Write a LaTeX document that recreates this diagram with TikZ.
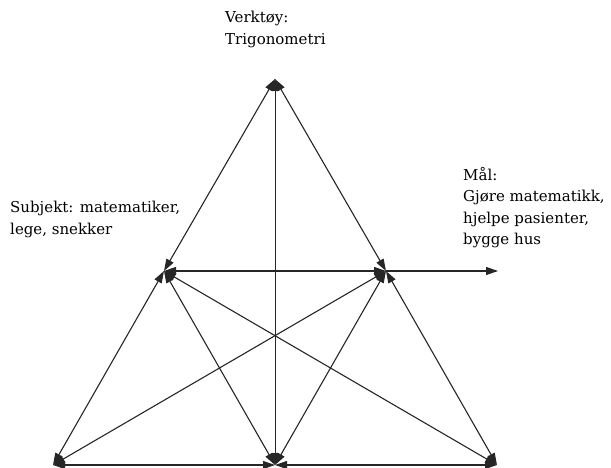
\documentclass[tikz,border=0pt]{standalone}
\usepackage{fontspec}
\setmainfont{DejaVu Serif}
\usetikzlibrary{arrows.meta}
\begin{document}
\begin{tikzpicture}[x=1pt,y=-1pt,
  link/.style={draw=black!85, line width=1.1pt, {Triangle[length=12pt,width=8pt]}-{Triangle[length=12pt,width=8pt]}},
  oneway/.style={draw=black!85, line width=1.1pt, -{Triangle[length=12pt,width=8pt]}},
  lbl/.style={anchor=north west, align=left, inner sep=0pt,
    font=\fontsize{15}{21.5}\selectfont}]
  \useasboundingbox (0,0) rectangle (611,468);
  % corners and mid-points of the activity triangle
  \coordinate (T)  at (275,79);
  \coordinate (S)  at (164,271);
  \coordinate (O)  at (386,271);
  \coordinate (BL) at (53,465);
  \coordinate (BM) at (275,465);
  \coordinate (BR) at (497,465);
  \coordinate (out) at (498,271);
  % outer sides
  \draw[link] (T) -- (S);
  \draw[link] (T) -- (O);
  \draw[link, line width=0.8pt] (T) -- (BM);
  \draw[link] (S) -- (BL);
  \draw[link] (O) -- (BR);
  \draw[link] (BL) -- (BM);
  \draw[link] (BM) -- (BR);
  % inner connections
  \draw[link] (S) -- (O);
  \draw[oneway] (O) -- (out);
  \draw[link] (S) -- (BM);
  \draw[link] (S) -- (BR);
  \draw[link] (O) -- (BL);
  \draw[link] (O) -- (BM);
  % labels
  \node[lbl] (tool) at (225,11) {Verktøy:\\Trigonometri};
  \node[lbl] (subj) at (10,201) {Subjekt: matematiker,\\lege, snekker};
  \node[lbl] (goal) at (463,167) {Mål:\\Gjøre matematikk,\\hjelpe pasienter,\\bygge hus};
\end{tikzpicture}
\end{document}
